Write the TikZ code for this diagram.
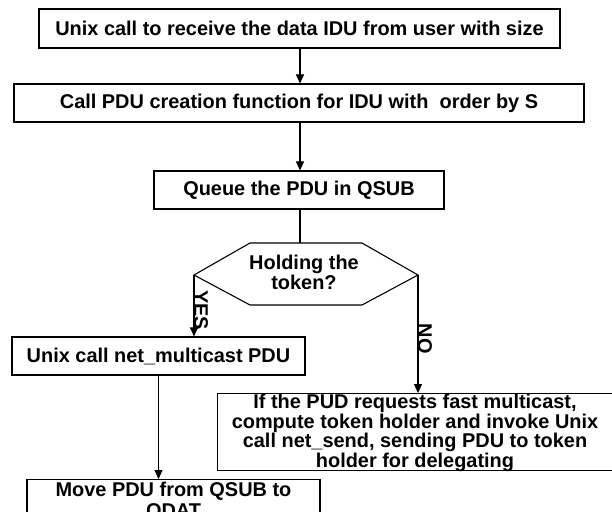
\documentclass[tikz,border=0pt]{standalone}
\usepackage{fontspec}
\setmainfont{Liberation Sans}
\usetikzlibrary{arrows.meta}
\begin{document}
\begin{tikzpicture}[x=1bp,y=-1bp,
  every node/.style={font=\bfseries\fontsize{20}{20.5}\selectfont, inner sep=0pt},
  stepbox/.style={draw, line width=1.1bp, minimum height=#1, align=center},
  stepbox/.default=38bp,
  link/.style={line width=1.1bp},
  flow/.style={link, -{Triangle[width=8bp,length=9bp]}},
  branch/.style={rotate=-90, anchor=base west}
]
\clip (0,0) rectangle (612,512);
\fill[white] (0,0) rectangle (612,512);

% main column
\coordinate (spine) at (300,0);
\node[stepbox=39bp, minimum width=521bp] (recv) at (299.5,28.5)
  {Unix call to receive the data IDU from user with size};
\node[stepbox, minimum width=570bp] (create) at (299,103)
  {Call PDU creation function for IDU with\ \ order by S};
\node[stepbox, minimum width=290bp] (queue) at (299,190)
  {Queue the PDU in QSUB};

% decision hexagon
\coordinate (ht) at (300,243);
\coordinate (hl) at (194,275);
\coordinate (hr) at (418,275);
\draw[link] (250,243) -- (362,243) -- (hr) -- (362,305) -- (250,305) -- (hl) -- cycle;
\node[align=center] (hold) at (304,272.5) {Holding the\\token?};

% outcomes
\node[stepbox, minimum width=293bp] (mcast) at (158.5,356)
  {Unix call net\_multicast PDU};
\node[stepbox=77bp, minimum width=403bp, anchor=north west] (deleg) at (217,393) {};
\node[align=center, anchor=north, font=\bfseries\fontsize{20}{19.7}\selectfont] (delegtext) at (415,394)
  {If the PUD requests fast multicast,\\compute token holder and invoke Unix\\call net\_send, sending PDU to token\\holder for delegating};
\node[stepbox=60bp, minimum width=293bp, anchor=north] (move) at (173.5,479) {};
\node[align=center, anchor=north, font=\bfseries\fontsize{20}{21.5}\selectfont] (movetext) at (173.5,481.5)
  {Move PDU from QSUB to\\QDAT};

% connectors
\draw[flow] (recv.south -| spine) -- (create.north -| spine);
\draw[flow] (create.south -| spine) -- (queue.north -| spine);
\draw[link] (queue.south -| spine) -- (ht);
\draw[flow] (hl) -- (hl |- mcast.north)
  node[branch, pos=0.24] (yes) {YES};
\draw[flow] (hr) -- (hr |- deleg.north)
  node[branch, pos=0.41] (no) {NO};
\draw[flow] (mcast.south) -- (mcast.south |- move.north);
\end{tikzpicture}
\end{document}
